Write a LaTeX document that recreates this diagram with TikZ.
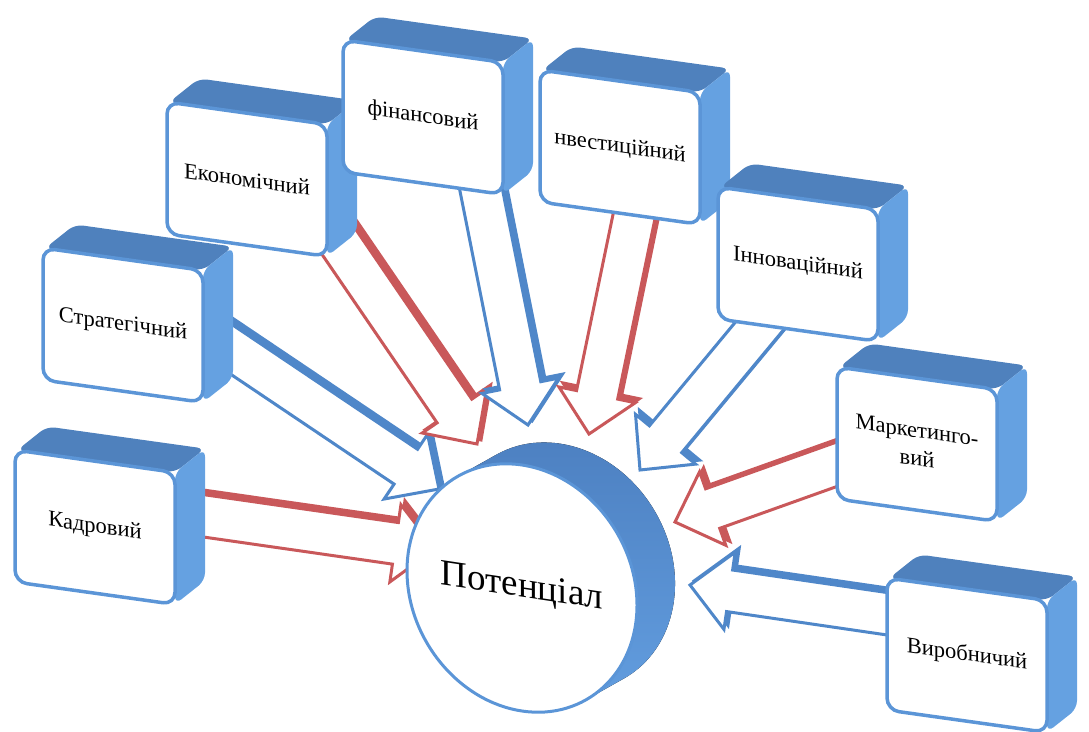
\documentclass[tikz,border=0pt]{standalone}
\usepackage{fontspec}
\setmainfont{Liberation Serif}
\usetikzlibrary{calc}

\definecolor{boxedge}{HTML}{5B95D7}
\definecolor{boxdark}{HTML}{4F81BD}
\definecolor{boxlight}{HTML}{65A1E1}
\definecolor{synii}{HTML}{4F87C9}
\definecolor{chervonyi}{HTML}{C9585A}
\definecolor{cyltop}{HTML}{4C7FC0}
\definecolor{cylmid}{HTML}{74AFEC}
\definecolor{cylbottom}{HTML}{64A0E2}

\tikzset{boxfront/.style={draw=boxedge,line width=3.5pt,fill=white,rounded corners=12pt}}
\tikzset{boxtop/.style={fill=boxdark,rounded corners=8pt}}
\tikzset{boxside/.style={fill=boxlight,rounded corners=8pt}}
\tikzset{boxtext/.style={font=\fontsize{22.5}{28}\selectfont,align=center,inner sep=0pt}}
\tikzset{potik/.style={line width=3pt,line join=miter}}
\tikzset{cylside/.style={top color=cyltop,middle color=cylmid,bottom color=cylbottom}}
\tikzset{cylfront/.style={draw=boxedge,line width=3pt,fill=white}}

% 3d box: name, front top-left corner, text
\newcommand{\Blok}[3]{
\begin{scope}[shift={#2},yslant=-0.14]
\fill[boxtop] (2,0) -- (32,-28) -- (190,-28) -- (160,0) -- cycle;
\fill[boxside] (160,0) -- (190,-28) -- (190,104) -- (160,132) -- cycle;
\draw[boxfront] (0,0) rectangle (160,132);
\node[boxtext,transform shape] (#1) at (80,66) {#3};
\end{scope}
}

% block arrow: from, to, colour
\newcommand{\Potik}[3]{
\foreach \zsuv/\zalyv in {4pt/#3,0pt/white}
\draw[potik,#3,fill=\zalyv,transform canvas={shift={(\zsuv,\zsuv)}}]
 ($(#1)!21pt!90:(#2)$) -- ($(#2)!40pt!(#1)!21pt!-90:(#1)$) -- ($(#2)!40pt!(#1)!39pt!-90:(#1)$)
 -- (#2) -- ($(#2)!40pt!(#1)!39pt!90:(#1)$) -- ($(#2)!40pt!(#1)!21pt!90:(#1)$)
 -- ($(#1)!21pt!-90:(#2)$) -- cycle;
}

\begin{document}
\begin{tikzpicture}[x=1pt,y=-1pt]
\useasboundingbox (0,0) rectangle (1089,731);

\coordinate (kadr-s) at (170,511);  \coordinate (kadr-t) at (435,549);
\coordinate (strat-s) at (207,333); \coordinate (strat-t) at (439,489);
\coordinate (ekon-s) at (313,204);  \coordinate (ekon-t) at (477,444);
\coordinate (fin-s) at (472,144);   \coordinate (fin-t) at (528,425);
\coordinate (inv-s) at (642,178);   \coordinate (inv-t) at (589,434);
\coordinate (inn-s) at (786,294);   \coordinate (inn-t) at (640,470);
\coordinate (mark-s) at (871,452);  \coordinate (mark-t) at (675,522);
\coordinate (vyr-s) at (923,619);   \coordinate (vyr-t) at (690,585);

\Potik{kadr-s}{kadr-t}{chervonyi}
\Potik{strat-s}{strat-t}{synii}
\Potik{ekon-s}{ekon-t}{chervonyi}
\Potik{fin-s}{fin-t}{synii}
\Potik{inv-s}{inv-t}{chervonyi}
\Potik{inn-s}{inn-t}{synii}
\Potik{mark-s}{mark-t}{chervonyi}
\Potik{vyr-s}{vyr-t}{synii}

\Blok{kadrovyi}{(15,450)}{Кадровий}
\Blok{stratehichnyi}{(43,248)}{Стратегічний}
\Blok{ekonomichnyi}{(167,102)}{Економічний}
\Blok{finansovyi}{(343,40)}{фінансовий}
\Blok{investytsiinyi}{(540,70)}{нвестиційний}
\Blok{innovatsiinyi}{(718,187)}{Інноваційний}
\Blok{marketynhovyi}{(837,367)}{Маркетинго-\\вий}
\Blok{vyrobnychyi}{(887,578)}{Виробничий}

% centre
\begin{scope}[shift={(522,588)},yslant=-0.15]
\fill[cylside] (-63.6,-102.5) -- (-25.6,-129.5)
 arc[start angle=236.4,end angle=416.4,x radius=115,y radius=123]
 -- (63.6,102.5) arc[start angle=56.4,end angle=236.4,x radius=115,y radius=123] -- cycle;
\draw[cylfront] (0,0) ellipse [x radius=115,y radius=123];
\node[font=\fontsize{37}{40}\selectfont,transform shape] (potentsial) at (0,0) {Потенціал};
\end{scope}

\end{tikzpicture}
\end{document}
